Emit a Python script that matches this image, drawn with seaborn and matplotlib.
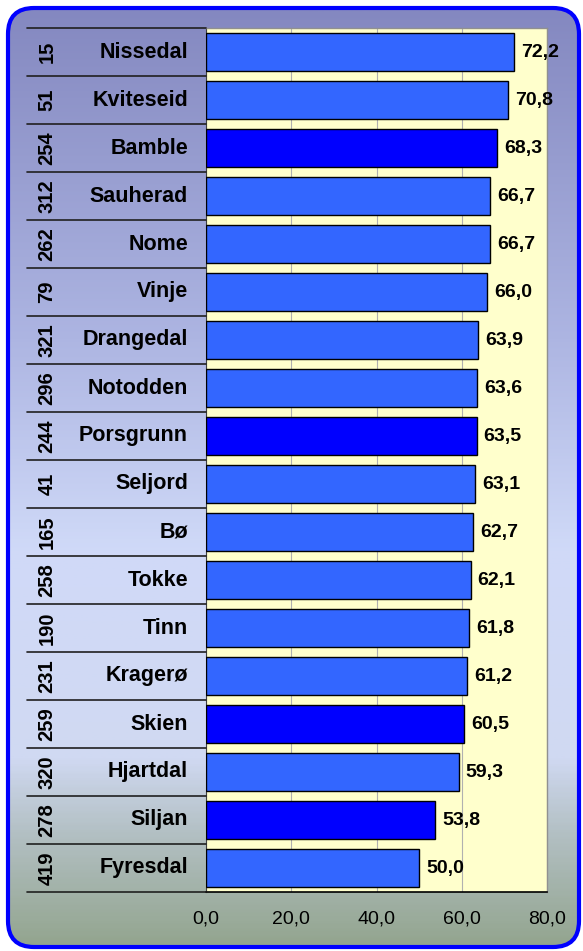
import numpy as np
import pandas as pd
import seaborn as sns
import matplotlib.pyplot as plt
from matplotlib.patches import FancyBboxPatch
from matplotlib.colors import LinearSegmentedColormap

# data
kommuner = ['Nissedal', 'Kviteseid', 'Bamble', 'Sauherad', 'Nome', 'Vinje', 'Drangedal',
            'Notodden', 'Porsgrunn', 'Seljord', 'Bø', 'Tokke', 'Tinn', 'Kragerø',
            'Skien', 'Hjartdal', 'Siljan', 'Fyresdal']
antall = [15, 51, 254, 312, 262, 79, 321, 296, 244, 41, 165, 258, 190, 231, 259, 320, 278, 419]
verdier = [72.2, 70.8, 68.3, 66.7, 66.7, 66.0, 63.9, 63.6, 63.5, 63.1, 62.7, 62.1,
           61.8, 61.2, 60.5, 59.3, 53.8, 50.0]
uthevet = ['Bamble', 'Porsgrunn', 'Skien', 'Siljan']
x_ticks = [0, 20, 40, 60, 80]

df = pd.DataFrame({'kommune': kommuner, 'antall': antall, 'verdi': verdier})
df['gruppe'] = np.where(df['kommune'].isin(uthevet), 'uthevet', 'vanlig')

sns.set_style('white')
plt.rcParams['font.family'] = ['Liberation Sans', 'DejaVu Sans']
plt.rcParams['text.color'] = 'black'
plt.rcParams['xtick.color'] = 'black'

W, H = 583, 951
fig = plt.figure(figsize=(W / 100, H / 100), dpi=100)
fig.patch.set_facecolor('white')

# background frame with gradient
bg = fig.add_axes([0, 0, 1, 1])
bg.set_xlim(0, W)
bg.set_ylim(H, 0)
bg.axis('off')
cmap = LinearSegmentedColormap.from_list('bg', [
    (0.0, '#8488c0'), (0.35, '#adb5e2'), (0.58, '#d0daf8'),
    (0.80, '#d0d9f2'), (0.88, '#b3c0c4'), (1.0, '#93a58f')])
grad = np.linspace(0, 1, 400).reshape(-1, 1)
frame = FancyBboxPatch((8, 8), 571, 939, boxstyle='round,pad=0,rounding_size=26',
                       facecolor='none', edgecolor='#0000ff', linewidth=3, zorder=3)
bg.add_patch(frame)
img = bg.imshow(grad, cmap=cmap, aspect='auto', extent=(8, 579, 947, 8), zorder=1)
img.set_clip_path(frame)

# plot area
x0, x1, y0, y1 = 206, 547, 28, 892
ax = fig.add_axes([x0 / W, 1 - y1 / H, (x1 - x0) / W, (y1 - y0) / H])
ax.set_facecolor('#ffffcc')
sns.barplot(data=df, x='verdi', y='kommune', hue='gruppe', orient='h', dodge=False,
            palette={'vanlig': '#3366ff', 'uthevet': '#0000ff'}, legend=False,
            saturation=1, edgecolor='black', linewidth=1, width=0.79, ax=ax, zorder=3)
ax.set_xlim(0, 80)
ax.set_ylim(len(kommuner) - 0.5, -0.5)
ax.set_xticks(x_ticks)
ax.set_xticklabels([f'{t:.1f}'.replace('.', ',') for t in x_ticks], fontsize=14)
ax.set_yticks([])
ax.set_xlabel('')
ax.set_ylabel('')
ax.grid(axis='x', color='#b0b0b0', linewidth=0.8, zorder=0)
ax.tick_params(axis='x', direction='out', length=5, width=1, color='black', pad=8)
for side in ['top', 'right']:
    ax.spines[side].set_color('#909090')
    ax.spines[side].set_linewidth(1)
ax.spines['left'].set_color('#404040')
ax.spines['bottom'].set_color('black')
ax.spines['bottom'].set_linewidth(1.2)

for cont in ax.containers:
    ax.bar_label(cont, labels=[f'{b.get_width():.1f}'.replace('.', ',') for b in cont],
                 padding=5, fontsize=14, fontweight='bold', color='black')

# table to the left of the bars
tab_left = (27 - x0) / (x1 - x0)
num_x = (47 - x0) / (x1 - x0)
name_x = (188 - x0) / (x1 - x0)
trans = ax.get_yaxis_transform()
for i, (navn, n) in enumerate(zip(kommuner, antall)):
    ax.text(num_x, i, str(n), transform=trans, rotation=90, ha='center', va='center',
            fontsize=14.5, fontweight='bold', clip_on=False)
    ax.text(name_x, i, navn, transform=trans, ha='right', va='center',
            fontsize=15.5, fontweight='bold', clip_on=False)
for k in range(len(kommuner) + 1):
    ax.plot([tab_left, 0], [k - 0.5, k - 0.5], transform=trans, color='#202020',
            linewidth=1.2, clip_on=False, zorder=4)

fig.savefig('out.png', dpi=100)
